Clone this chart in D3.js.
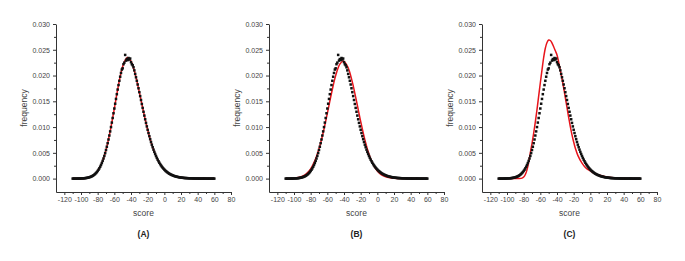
<!DOCTYPE html>
<html>
<head>
<meta charset="utf-8">
<script src="https://cdn.jsdelivr.net/npm/d3@7"></script>
<style>
  body { margin: 0; background: #fff; }
  svg { display: block; font-family: "Liberation Sans", Arial, sans-serif; }
</style>
</head>
<body>
<div id="chart"></div>
<script>
// observed score distribution (same points in all three panels)
scores = [-110,-109,-108,-107,-106,-105,-104,-103,-102,-101,-100,-99,-98,-97,-96,-95,-94,-93,-92,-91,
  -90,-89,-88,-87,-86,-85,-84,-83,-82,-81,-80,-79,-78,-77,-76,-75,-74,-73,-72,-71,
  -70,-69,-68,-67,-66,-65,-64,-63,-62,-61,-60,-59,-58,-57,-56,-55,-54,-53,-52,-51,
  -50,-49,-48,-47,-46,-45,-44,-43,-42,-41,-40,-39,-38,-37,-36,-35,-34,-33,-32,-31,
  -30,-29,-28,-27,-26,-25,-24,-23,-22,-21,-20,-19,-18,-17,-16,-15,-14,-13,-12,-11,
  -10,-9,-8,-7,-6,-5,-4,-3,-2,-1,0,1,2,3,4,5,6,7,8,9,
  10,11,12,13,14,15,16,17,18,19,20,21,22,23,24,25,26,27,28,29,
  30,31,32,33,34,35,36,37,38,39,40,41,42,43,44,45,46,47,48,49,
  50,51,52,53,54,55,56,57,58,59,60];

frequency = [0,0,0,0,0,0,0.00001,0.00001,0.00002,0.00002,0.00003,0.00004,0.00005,0.00006,0.00007,0.00009,0.00011,0.00014,0.00017,0.00021,
  0.00026,0.00031,0.00038,0.00045,0.00054,0.00065,0.00077,0.00091,0.00108,0.00126,0.00148,0.00172,0.00199,0.00230,0.00264,0.00302,0.00344,0.00390,0.00440,0.00495,
  0.00555,0.00618,0.00687,0.00759,0.00836,0.00916,0.01000,0.01087,0.01176,0.01268,0.01360,0.01453,0.01546,0.01638,0.01728,0.01815,0.01898,0.01977,0.02050,0.02116,
  0.0214,0.0222,0.0225,0.0240,0.0229,0.0232,0.0230,0.0234,0.0231,0.0233,0.0226,0.0222,0.0220,0.0216,0.0210,0.02031,0.01966,0.01898,0.01826,0.01753,
  0.01677,0.01601,0.01525,0.01448,0.01372,0.01297,0.01223,0.01151,0.01081,0.01013,0.00947,0.00884,0.00823,0.00765,0.00710,0.00658,0.00609,0.00562,0.00518,0.00477,
  0.00438,0.00402,0.00368,0.00337,0.00308,0.00281,0.00256,0.00233,0.00212,0.00193,0.00175,0.00158,0.00143,0.00130,0.00117,0.00106,0.00095,0.00086,0.00077,0.00070,
  0.00063,0.00056,0.00050,0.00045,0.00040,0.00036,0.00032,0.00029,0.00026,0.00023,0.00020,0.00018,0.00016,0.00014,0.00012,0.00011,0.00010,0.00009,0.00008,0.00007,
  0.00006,0.00005,0.00005,0.00004,0.00004,0.00003,0.00003,0.00002,0.00002,0.00002,0.00001,0.00001,0.00001,0.00001,0.00001,0.00001,0.00001,0.00001,0.00001,0.00001,
  0.00001,0,0,0,0,0,0,0,0,0,0];

// fitted curves (red)
fitAScore = [-110,-105,-100,-95,-90,-85,-80,-75,-70,-65,-60,-55,-50,-45,-44,-40,-35,-30,-25,-20,-15,-10,-5,0,5,10,15,20,25,30,35,40,45,50,55,60];
fitA = [0,0,0.00003,0.00009,0.00026,0.00065,0.00148,0.00302,0.00555,0.00916,0.01360,0.01815,0.02176,0.02345,0.0235,0.02280,0.02031,0.01677,0.01297,0.00947,0.00658,0.00438,0.00281,0.00175,0.00106,0.00063,0.00036,0.00020,0.00011,0.00006,0.00003,0.00001,0,0,0,0];

fitBScore = [-110,-105,-100,-95,-90,-85,-80,-75,-70,-65,-60,-55,-50,-45,-41,-40,-35,-30,-25,-20,-15,-10,-5,0,5,10,15,20,25,30,35,40,45,50,55,60];
fitB = [0.00001,0.00003,0.00008,0.00020,0.00045,0.00097,0.00190,0.00345,0.00578,0.00890,0.01265,0.01656,0.01998,0.02221,0.0228,0.02276,0.02150,0.01871,0.01501,0.01110,0.00756,0.00475,0.00275,0.00147,0.00072,0.00033,0.00014,0.00005,0.00002,0.00001,0,0,0,0,0,0];

fitCScore = [-110,-100,-90,-86,-82,-80,-78,-76,-74,-72,-70,-68,-66,-64,-62,-60,-58,-56,-54,-52,-50,-48,-46,-44,-42,-40,-38,-36,-34,-32,-30,-28,-26,-24,-22,-20,-18,-15,-10,-5,0,5,10,15,20,25,30,35,40,45,50,55,60];
fitC = [0,0,0,0.00002,0.0001,0.0003,0.0008,0.0017,0.0032,0.0050,0.0068,0.0088,0.0110,0.0134,0.0160,0.0186,0.0211,0.0235,0.0253,0.0264,0.0269,0.0268,0.0263,0.0256,0.0248,0.0240,0.0226,0.0210,0.0194,0.0176,0.0157,0.0138,0.0119,0.0101,0.0085,0.0071,0.0059,0.0045,0.0030,0.0020,0.0015,0.0010,0.0007,0.0005,0.00032,0.0002,0.00012,0.00007,0.00004,0.00002,0.00001,0,0];

panelLabels = ["(A)", "(B)", "(C)"];
xTicks = [-120,-100,-80,-60,-40,-20,0,20,40,60,80];
xMinorTicks = [-110,-90,-70,-50,-30,-10,10,30,50,70];
yTicks = [0,0.005,0.010,0.015,0.020,0.025,0.030];
yMinorTicks = [0.0025,0.0075,0.0125,0.0175,0.0225,0.0275];

// layout
width = 685;
height = 261;
panelLeft = [56, 269, 482];
plotW = 175;
plotTop = 24;
plotBottom = 192;
dot = 2.5;

svg = d3.select("#chart")
  .append("svg")
    .attr("width", width)
    .attr("height", height);

observed = scores.map((s, i) => [s, frequency[i]]);
fits = [
  fitAScore.map((s, i) => [s, fitA[i]]),
  fitBScore.map((s, i) => [s, fitB[i]]),
  fitCScore.map((s, i) => [s, fitC[i]])
];

xScale = d3.scaleLinear().domain([-130, 80]).range([0, plotW]);
yScale = d3.scaleLinear().domain([-0.0026, 0.030]).range([plotBottom, plotTop]);

fitLine = d3.line()
  .x(d => xScale(d[0]))
  .y(d => yScale(d[1]))
  .curve(d3.curveCatmullRom);

panelLabels.forEach((label, i) => {
  const g = svg.append("g").attr("transform", `translate(${panelLeft[i]},0)`);

  // minor ticks first, then the main axes
  g.append("g")
    .attr("transform", `translate(0,${plotBottom})`)
    .call(d3.axisBottom(xScale).tickValues(xMinorTicks).tickSize(2).tickFormat(""))
    .call(a => a.select(".domain").remove());
  g.append("g")
    .call(d3.axisLeft(yScale).tickValues(yMinorTicks).tickSize(2).tickFormat(""))
    .call(a => a.select(".domain").remove());

  g.append("g")
    .attr("transform", `translate(0,${plotBottom})`)
    .call(d3.axisBottom(xScale).tickValues(xTicks).tickSize(3).tickSizeOuter(0).tickPadding(2).tickFormat(d => String(d)));
  g.append("g")
    .call(d3.axisLeft(yScale).tickValues(yTicks).tickSize(3).tickSizeOuter(0).tickPadding(3).tickFormat(d3.format(".3f")));

  g.selectAll(".tick line").attr("stroke", "#333");
  g.selectAll(".domain").attr("stroke", "#333");
  g.selectAll(".tick text").attr("fill", "#444").style("font-size", "7px");

  // fitted curve
  g.append("path")
    .datum(fits[i])
    .attr("fill", "none")
    .attr("stroke", "#e8141b")
    .attr("stroke-width", 1.5)
    .attr("d", fitLine);

  // observed points
  g.selectAll(".pt")
    .data(observed)
    .enter().append("rect")
    .attr("class", "pt")
    .attr("x", d => xScale(d[0]) - dot / 2)
    .attr("y", d => yScale(d[1]) - dot / 2)
    .attr("width", dot)
    .attr("height", dot)
    .attr("fill", "#111");

  // axis titles
  g.append("text")
    .attr("x", plotW / 2)
    .attr("y", 216)
    .attr("text-anchor", "middle")
    .attr("fill", "#444")
    .style("font-size", "8.5px")
    .text("score");

  g.append("text")
    .attr("transform", "rotate(-90)")
    .attr("x", -(plotTop + plotBottom) / 2)
    .attr("y", -29)
    .attr("text-anchor", "middle")
    .attr("fill", "#444")
    .style("font-size", "8.5px")
    .text("frequency");

  g.append("text")
    .attr("x", plotW / 2)
    .attr("y", 237)
    .attr("text-anchor", "middle")
    .attr("fill", "#222")
    .style("font-size", "8.5px")
    .style("font-weight", "bold")
    .text(label);
});
</script>
</body>
</html>
